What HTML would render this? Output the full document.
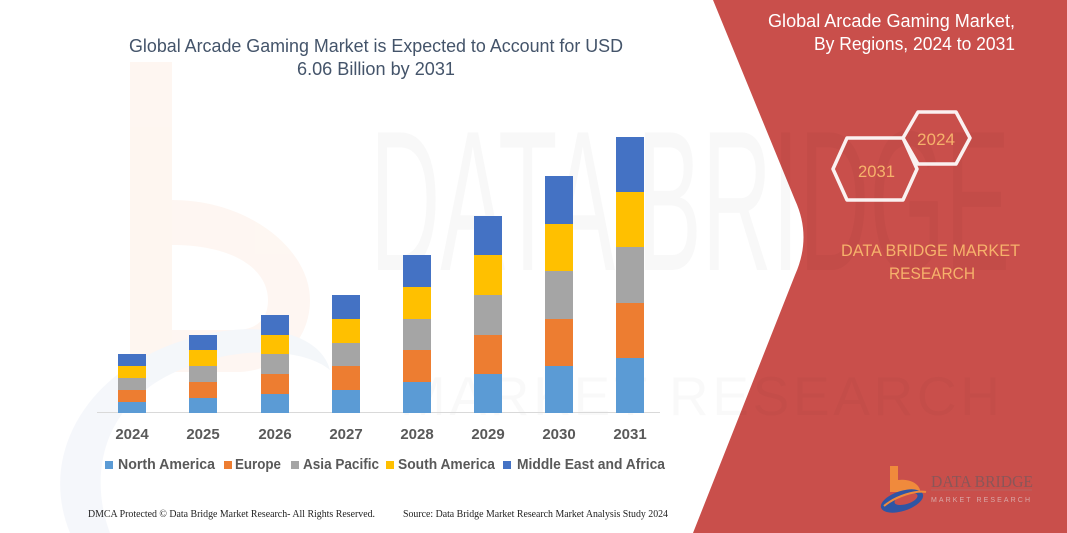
<!DOCTYPE html>
<html>
<head>
<meta charset="utf-8">
<style>
  html,body{margin:0;padding:0;background:#fff;}
  svg{display:block;}
</style>
</head>
<body>
<svg width="1067" height="533" viewBox="0 0 1067 533" xmlns="http://www.w3.org/2000/svg">
  <rect x="0" y="0" width="1067" height="533" fill="#ffffff"/>

  <!-- faint watermark "b" logo on left -->
  <g opacity="0.4">
    <rect x="130" y="62" width="42" height="310" fill="#fde9dc"/>
    <path d="M172,200 C250,200 310,250 310,300 C310,340 280,370 240,372 L172,372 L172,330 L235,330 C258,330 268,318 268,300 C268,270 235,245 172,245 Z" fill="#fdeadf"/>
    <path d="M70,533 C40,460 80,380 170,345 C250,315 320,330 330,370 C300,345 220,345 160,380 C100,415 90,480 110,533 Z" fill="#e6ecf4"/>
  </g>

  <!-- red right panel -->
  <path d="M713,0 L795,200 Q812,237 795,275 L693,533 L1067,533 L1067,0 Z" fill="#c94f4b"/>

  <!-- faint big watermark text -->
  <text x="370" y="270" font-family="Liberation Sans, sans-serif" font-size="200" textLength="640" lengthAdjust="spacingAndGlyphs" fill="#000" opacity="0.025">DATA BRIDGE</text>
  <text x="400" y="415" font-family="Liberation Sans, sans-serif" font-size="55" textLength="600" lengthAdjust="spacing" fill="#000" opacity="0.018">MARKET RESEARCH</text>

  <!-- chart title -->
  <text x="129" y="52" font-family="Liberation Sans, sans-serif" font-size="18" fill="#44546a" textLength="494" lengthAdjust="spacingAndGlyphs">Global Arcade Gaming Market is Expected to Account for USD</text>
  <text x="297" y="75" font-family="Liberation Sans, sans-serif" font-size="18" fill="#44546a" textLength="158" lengthAdjust="spacingAndGlyphs">6.06 Billion by 2031</text>

  <!-- axis line -->
  <line x1="97" y1="412.5" x2="660" y2="412.5" stroke="#d9d9d9" stroke-width="1"/>

  <!-- bars -->
  <g>
    <rect x="118" y="402" width="28" height="11" fill="#5b9bd5"/>
    <rect x="118" y="390" width="28" height="12" fill="#ed7d31"/>
    <rect x="118" y="378" width="28" height="12" fill="#a5a5a5"/>
    <rect x="118" y="366" width="28" height="12" fill="#ffc000"/>
    <rect x="118" y="354" width="28" height="12" fill="#4472c4"/>

    <rect x="189" y="398" width="28" height="15" fill="#5b9bd5"/>
    <rect x="189" y="382" width="28" height="16" fill="#ed7d31"/>
    <rect x="189" y="366" width="28" height="16" fill="#a5a5a5"/>
    <rect x="189" y="350" width="28" height="16" fill="#ffc000"/>
    <rect x="189" y="335" width="28" height="15" fill="#4472c4"/>

    <rect x="261" y="394" width="28" height="19" fill="#5b9bd5"/>
    <rect x="261" y="374" width="28" height="20" fill="#ed7d31"/>
    <rect x="261" y="354" width="28" height="20" fill="#a5a5a5"/>
    <rect x="261" y="335" width="28" height="19" fill="#ffc000"/>
    <rect x="261" y="315" width="28" height="20" fill="#4472c4"/>

    <rect x="332" y="390" width="28" height="23" fill="#5b9bd5"/>
    <rect x="332" y="366" width="28" height="24" fill="#ed7d31"/>
    <rect x="332" y="343" width="28" height="23" fill="#a5a5a5"/>
    <rect x="332" y="319" width="28" height="24" fill="#ffc000"/>
    <rect x="332" y="295" width="28" height="24" fill="#4472c4"/>

    <rect x="403" y="382" width="28" height="31" fill="#5b9bd5"/>
    <rect x="403" y="350" width="28" height="32" fill="#ed7d31"/>
    <rect x="403" y="319" width="28" height="31" fill="#a5a5a5"/>
    <rect x="403" y="287" width="28" height="32" fill="#ffc000"/>
    <rect x="403" y="255" width="28" height="32" fill="#4472c4"/>

    <rect x="474" y="374" width="28" height="39" fill="#5b9bd5"/>
    <rect x="474" y="335" width="28" height="39" fill="#ed7d31"/>
    <rect x="474" y="295" width="28" height="40" fill="#a5a5a5"/>
    <rect x="474" y="255" width="28" height="40" fill="#ffc000"/>
    <rect x="474" y="216" width="28" height="39" fill="#4472c4"/>

    <rect x="545" y="366" width="28" height="47" fill="#5b9bd5"/>
    <rect x="545" y="319" width="28" height="47" fill="#ed7d31"/>
    <rect x="545" y="271" width="28" height="48" fill="#a5a5a5"/>
    <rect x="545" y="224" width="28" height="47" fill="#ffc000"/>
    <rect x="545" y="176" width="28" height="48" fill="#4472c4"/>

    <rect x="616" y="358" width="28" height="55" fill="#5b9bd5"/>
    <rect x="616" y="303" width="28" height="55" fill="#ed7d31"/>
    <rect x="616" y="247" width="28" height="56" fill="#a5a5a5"/>
    <rect x="616" y="192" width="28" height="55" fill="#ffc000"/>
    <rect x="616" y="137" width="28" height="55" fill="#4472c4"/>
  </g>

  <!-- year labels -->
  <g font-family="Liberation Sans, sans-serif" font-size="15" font-weight="bold" fill="#595959" text-anchor="middle">
    <text x="132" y="439">2024</text>
    <text x="203" y="439">2025</text>
    <text x="275" y="439">2026</text>
    <text x="346" y="439">2027</text>
    <text x="417" y="439">2028</text>
    <text x="488" y="439">2029</text>
    <text x="559" y="439">2030</text>
    <text x="630" y="439">2031</text>
  </g>

  <!-- legend -->
  <g font-family="Liberation Sans, sans-serif" font-size="15" font-weight="bold" fill="#595959">
    <rect x="105" y="461" width="8" height="8" fill="#5b9bd5"/>
    <text x="118" y="469" textLength="97" lengthAdjust="spacingAndGlyphs">North America</text>
    <rect x="224" y="461" width="8" height="8" fill="#ed7d31"/>
    <text x="235" y="469" textLength="46" lengthAdjust="spacingAndGlyphs">Europe</text>
    <rect x="291" y="461" width="8" height="8" fill="#a5a5a5"/>
    <text x="303" y="469" textLength="76" lengthAdjust="spacingAndGlyphs">Asia Pacific</text>
    <rect x="386" y="461" width="8" height="8" fill="#ffc000"/>
    <text x="398" y="469" textLength="97" lengthAdjust="spacingAndGlyphs">South America</text>
    <rect x="503" y="461" width="8" height="8" fill="#4472c4"/>
    <text x="517" y="469" textLength="148" lengthAdjust="spacingAndGlyphs">Middle East and Africa</text>
  </g>

  <!-- footer -->
  <g font-family="Liberation Serif, serif" font-size="10.5" fill="#222">
    <text x="88" y="517" textLength="287" lengthAdjust="spacingAndGlyphs">DMCA Protected © Data Bridge Market Research-  All Rights Reserved.</text>
    <text x="403" y="517" textLength="265" lengthAdjust="spacingAndGlyphs">Source: Data Bridge Market Research  Market Analysis Study 2024</text>
  </g>

  <!-- right panel title -->
  <g font-family="Liberation Sans, sans-serif" font-size="18" fill="#ffffff">
    <text x="768" y="27" textLength="247" lengthAdjust="spacingAndGlyphs">Global Arcade Gaming Market,</text>
    <text x="814" y="50" textLength="201" lengthAdjust="spacingAndGlyphs">By Regions, 2024 to 2031</text>
  </g>

  <!-- hexagons -->
  <g fill="none" stroke="#ffffff" stroke-width="3.5" stroke-linejoin="round" opacity="0.92">
    <polygon points="903,138 918,112 956,112 970,138 956,164 918,164"/>
    <polygon points="833,169 847,138 903,138 917,169 903,200 847,200"/>
  </g>
  <g font-family="Liberation Sans, sans-serif" font-size="17" fill="#f6b26b">
    <text x="917" y="145" textLength="38" lengthAdjust="spacingAndGlyphs">2024</text>
    <text x="858" y="177" textLength="37" lengthAdjust="spacingAndGlyphs">2031</text>
  </g>

  <!-- DATA BRIDGE MARKET RESEARCH -->
  <g font-family="Liberation Sans, sans-serif" font-size="17" fill="#f6b26b">
    <text x="841" y="256" textLength="179" lengthAdjust="spacingAndGlyphs">DATA BRIDGE MARKET</text>
    <text x="889" y="279" textLength="86" lengthAdjust="spacingAndGlyphs">RESEARCH</text>
  </g>

  <!-- logo bottom right -->
  <g>
    <rect x="890" y="466" width="8" height="26" fill="#f08a3c"/>
    <path d="M898,480 C912,478 922,486 920,494 L898,494 Z" fill="#f08a3c"/>
    <ellipse cx="902" cy="501" rx="22" ry="10" transform="rotate(-18 902 501)" fill="#2f55a4"/>
    <ellipse cx="906" cy="499" rx="12" ry="5" transform="rotate(-18 906 499)" fill="#c94f4b"/>
    <path d="M884,506 C896,496 916,490 926,492" stroke="#f08a3c" stroke-width="2" fill="none"/>
    <text x="931" y="487" font-family="Liberation Serif, serif" font-size="17" fill="#8a5658" textLength="102" lengthAdjust="spacingAndGlyphs">DATA BRIDGE</text>
    <line x1="931" y1="490" x2="1032" y2="490" stroke="#b06a68" stroke-width="0.8"/>
    <text x="931" y="502" font-family="Liberation Sans, sans-serif" font-size="7" fill="#d9a9a8" textLength="99" lengthAdjust="spacing">MARKET RESEARCH</text>
  </g>
</svg>
</body>
</html>
